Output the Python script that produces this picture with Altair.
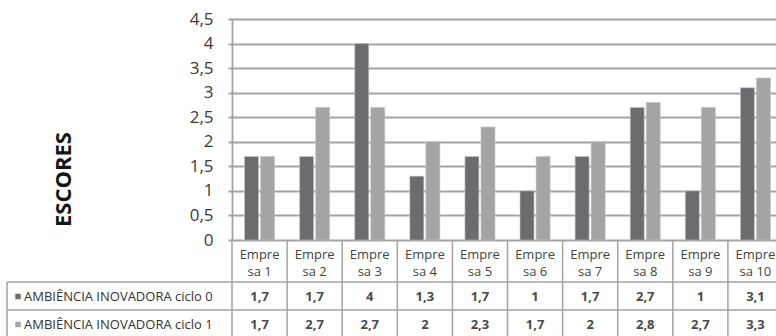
import altair as alt
import pandas as pd

# Companies (categories) and the two innovation-environment cycles
empresas = ["Empresa 1", "Empresa 2", "Empresa 3", "Empresa 4", "Empresa 5",
            "Empresa 6", "Empresa 7", "Empresa 8", "Empresa 9", "Empresa 10"]
series = ["AMBIÊNCIA INOVADORA ciclo 0", "AMBIÊNCIA INOVADORA ciclo 1"]
ciclo0 = [1.7, 1.7, 4, 1.3, 1.7, 1, 1.7, 2.7, 1, 3.1]
ciclo1 = [1.7, 2.7, 2.7, 2, 2.3, 1.7, 2, 2.8, 2.7, 3.3]
y_ticks = [0, 0.5, 1, 1.5, 2, 2.5, 3, 3.5, 4, 4.5]

df = pd.DataFrame({
    "empresa": empresas * 2,
    "serie": [series[0]] * len(empresas) + [series[1]] * len(empresas),
    "valor": ciclo0 + ciclo1,
})
cat_df = pd.DataFrame({"empresa": empresas})
serie_df = pd.DataFrame({"serie": series})

FONT = "Open Sans"
DARK, LIGHT = "#6b6c6f", "#a3a4a6"
LINE = "#a3a3a3"
W, H = 551, 221
ROW_TOP = [263, 291]       # top border of each data row (plot coords)
ROW_MID = [277.5, 305.5]   # vertical centre of each data row
BOTTOM = 320


def x_enc(band=0.5):
    return alt.X("empresa:N", sort=empresas, bandPosition=band,
                 scale=alt.Scale(domain=empresas, paddingInner=0, paddingOuter=0),
                 axis=None)


color_enc = alt.Color("serie:N", scale=alt.Scale(domain=series, range=[DARK, LIGHT]),
                      legend=None)

bars = alt.Chart(df).mark_bar(stroke="#c4c4c4", strokeWidth=0.6).encode(
    x=x_enc(),
    xOffset=alt.XOffset("serie:N", sort=series,
                        scale=alt.Scale(domain=series, paddingInner=0.13, paddingOuter=0.78)),
    y=alt.Y("valor:Q",
            scale=alt.Scale(domain=[0, 4.5], nice=False),
            axis=alt.Axis(
                values=y_ticks,
                labelExpr="replace(format(datum.value, '.1~f'), '.', ',')",
                grid=True, gridColor=LINE, gridWidth=2,
                domain=True, domainColor=LINE, domainWidth=1.8,
                ticks=True, tickSize=4, tickColor=LINE, tickWidth=2,
                labelPadding=15, labelFont=FONT, labelFontSize=17,
                labelColor="#3a3a3a",
                title="ESCORES", titleFont=FONT, titleFontSize=22,
                titleFontWeight="bold", titleColor="#151515",
                titleAngle=270, titleX=-169, titleY=160,
                titleAlign="center", titleBaseline="middle")),
    color=color_enc,
)

# Data table under the plot: column borders at each category's left edge
vlines = alt.Chart(cat_df).mark_rule(color=LINE, strokeWidth=1.5).encode(
    x=x_enc(0), y=alt.value(H), y2=alt.value(BOTTOM))

layers = [bars, vlines]

# Left border of the row-header column
layers.append(alt.Chart(serie_df.head(1)).mark_rule(color=LINE, strokeWidth=1.5).encode(
    x=alt.value(-225), y=alt.value(ROW_TOP[0]), y2=alt.value(BOTTOM)))

# Header cells "Empre / sa N"
header = alt.Chart(cat_df).transform_calculate(
    l1="substring(datum.empresa, 0, 5)",
    l2="substring(datum.empresa, 5)",
)
layers.append(header.mark_text(font=FONT, fontSize=13, color="#444444", baseline="middle")
              .encode(x=x_enc(), y=alt.value(236), text="l1:N"))
layers.append(header.mark_text(font=FONT, fontSize=13, color="#444444", baseline="middle")
              .encode(x=x_enc(), y=alt.value(253), text="l2:N"))

for i, s in enumerate(series):
    sel = alt.datum.serie == s
    # row top border
    layers.append(alt.Chart(serie_df).transform_filter(sel)
                  .mark_rule(color=LINE, strokeWidth=1.5)
                  .encode(x=alt.value(-225), x2=alt.value(W), y=alt.value(ROW_TOP[i])))
    # legend square + row name
    layers.append(alt.Chart(serie_df).transform_filter(sel)
                  .mark_square(size=30, opacity=1)
                  .encode(x=alt.value(-214), y=alt.value(ROW_MID[i]), color=color_enc))
    layers.append(alt.Chart(serie_df).transform_filter(sel)
                  .mark_text(font=FONT, fontSize=13, color="#333333", align="left",
                             baseline="middle")
                  .encode(x=alt.value(-208), y=alt.value(ROW_MID[i]), text="serie:N"))
    # values of this series
    layers.append(alt.Chart(df).transform_filter(sel)
                  .transform_calculate(rotulo="replace(format(datum.valor, '.1~f'), '.', ',')")
                  .mark_text(font=FONT, fontSize=13, fontWeight="bold", color="#4a4a4a",
                             baseline="middle")
                  .encode(x=x_enc(), y=alt.value(ROW_MID[i]), text="rotulo:N"))

chart = alt.layer(*layers).properties(
    width=W, height=H,
    padding={"left": 232, "top": 19, "right": -7, "bottom": 96},
    autosize=alt.AutoSizeParams(type="none"),
    background="white",
).configure_view(stroke=None)

chart.save("out.html", embed_options={"renderer": "svg", "actions": False})
